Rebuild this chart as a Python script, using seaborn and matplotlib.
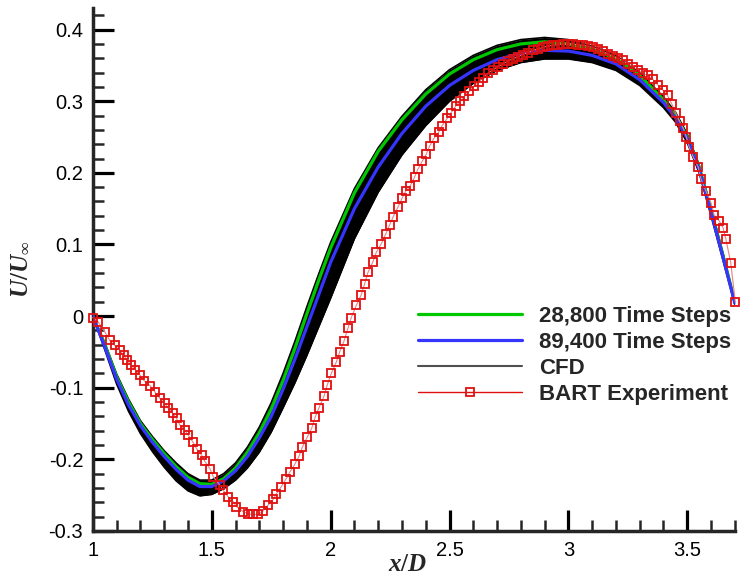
import matplotlib
matplotlib.use("Agg")
import matplotlib.pyplot as plt
from matplotlib.lines import Line2D
from matplotlib.ticker import MultipleLocator
import seaborn as sns
import pandas as pd

# ---- data ----
x_curve = [1.0, 1.05, 1.1, 1.15, 1.2, 1.25, 1.3, 1.35, 1.4, 1.45, 1.5, 1.55, 1.6, 1.65,
           1.7, 1.75, 1.8, 1.85, 1.9, 1.95, 2.0, 2.1, 2.2, 2.3, 2.4, 2.5, 2.6, 2.7, 2.8,
           2.9, 3.0, 3.1, 3.2, 3.3, 3.4, 3.45, 3.5, 3.55, 3.6, 3.65, 3.7]

u_28800 = [0.0, -0.04, -0.085, -0.12, -0.15, -0.172, -0.192, -0.21, -0.225, -0.234, -0.235,
           -0.227, -0.212, -0.19, -0.163, -0.13, -0.09, -0.045, 0.003, 0.05, 0.095, 0.172,
           0.23, 0.274, 0.31, 0.338, 0.358, 0.372, 0.38, 0.383, 0.38, 0.372, 0.36, 0.336,
           0.302, 0.28, 0.25, 0.208, 0.148, 0.085, 0.02]

u_89400 = [0.0, -0.043, -0.088, -0.124, -0.153, -0.176, -0.196, -0.214, -0.229, -0.238, -0.238,
           -0.23, -0.216, -0.196, -0.17, -0.14, -0.102, -0.06, -0.015, 0.03, 0.075, 0.15,
           0.208, 0.255, 0.293, 0.322, 0.343, 0.358, 0.367, 0.371, 0.37, 0.364, 0.352, 0.33,
           0.298, 0.277, 0.248, 0.205, 0.145, 0.083, 0.018]

cfd_upper = [0.0, -0.037, -0.081, -0.116, -0.146, -0.168, -0.188, -0.205, -0.22, -0.229, -0.229,
             -0.22, -0.205, -0.183, -0.155, -0.121, -0.08, -0.035, 0.013, 0.059, 0.103, 0.178,
             0.235, 0.279, 0.316, 0.344, 0.364, 0.378, 0.386, 0.389, 0.386, 0.377, 0.364, 0.34,
             0.306, 0.285, 0.254, 0.211, 0.151, 0.088, 0.02]

cfd_lower = [0.0, -0.047, -0.095, -0.133, -0.164, -0.189, -0.211, -0.23, -0.244, -0.251, -0.249,
             -0.241, -0.229, -0.212, -0.19, -0.162, -0.128, -0.093, -0.055, -0.015, 0.025, 0.108,
             0.173, 0.225, 0.266, 0.3, 0.325, 0.343, 0.354, 0.359, 0.359, 0.354, 0.343, 0.322,
             0.291, 0.271, 0.242, 0.2, 0.14, 0.078, 0.016]

x_bart = [1.000, 1.022, 1.050, 1.071, 1.092, 1.113, 1.130, 1.145, 1.162, 1.178, 1.197,
          1.215, 1.240, 1.261, 1.282, 1.303, 1.317, 1.337, 1.352, 1.366, 1.387, 1.400,
          1.421, 1.436, 1.457, 1.471, 1.492, 1.506, 1.534, 1.548, 1.568, 1.589, 1.604,
          1.632, 1.653, 1.674, 1.695, 1.716, 1.737, 1.758, 1.772, 1.793, 1.811, 1.828,
          1.849, 1.868, 1.881, 1.902, 1.921, 1.935, 1.951, 1.972, 1.986, 2.003, 2.024,
          2.038, 2.056, 2.073, 2.087, 2.108, 2.129, 2.143, 2.157, 2.178, 2.192, 2.213,
          2.231, 2.248, 2.262, 2.283, 2.301, 2.315, 2.335, 2.353, 2.367, 2.385, 2.402,
          2.416, 2.434, 2.455, 2.469, 2.490, 2.507, 2.528, 2.546, 2.563, 2.584, 2.602,
          2.623, 2.640, 2.661, 2.682, 2.703, 2.724, 2.745, 2.766, 2.787, 2.808, 2.829,
          2.850, 2.871, 2.892, 2.913, 2.934, 2.955, 2.976, 2.997, 3.018, 3.039, 3.060,
          3.081, 3.102, 3.123, 3.144, 3.165, 3.186, 3.207, 3.228, 3.249, 3.270, 3.291,
          3.312, 3.333, 3.354, 3.375, 3.396, 3.417, 3.435, 3.452, 3.468, 3.483, 3.496,
          3.508, 3.525, 3.546, 3.557, 3.578, 3.600, 3.613, 3.634, 3.651, 3.662, 3.683, 3.702]

u_bart = [-0.002, -0.008, -0.022, -0.034, -0.041, -0.048, -0.055, -0.062, -0.069, -0.075, -0.082,
          -0.090, -0.097, -0.106, -0.115, -0.122, -0.129, -0.136, -0.143, -0.152, -0.159, -0.166,
          -0.176, -0.185, -0.194, -0.203, -0.213, -0.224, -0.236, -0.243, -0.252, -0.259, -0.266,
          -0.273, -0.276, -0.277, -0.277, -0.272, -0.264, -0.256, -0.248, -0.238, -0.228, -0.218,
          -0.207, -0.195, -0.183, -0.169, -0.156, -0.141, -0.128, -0.112, -0.096, -0.080, -0.064,
          -0.050, -0.035, -0.017, -0.002, 0.015, 0.030, 0.045, 0.061, 0.076, 0.089, 0.101,
          0.114, 0.127, 0.138, 0.152, 0.165, 0.174, 0.182, 0.194, 0.205, 0.216, 0.226,
          0.237, 0.248, 0.257, 0.266, 0.276, 0.284, 0.294, 0.300, 0.307, 0.314, 0.321,
          0.327, 0.333, 0.339, 0.344, 0.348, 0.352, 0.356, 0.359, 0.362, 0.365, 0.368,
          0.371, 0.373, 0.375, 0.377, 0.378, 0.379, 0.380, 0.380, 0.380, 0.379, 0.378,
          0.377, 0.375, 0.373, 0.370, 0.366, 0.363, 0.360, 0.357, 0.352, 0.348, 0.344,
          0.339, 0.336, 0.331, 0.323, 0.316, 0.308, 0.296, 0.283, 0.272, 0.262, 0.250,
          0.236, 0.222, 0.208, 0.192, 0.175, 0.158, 0.141, 0.133, 0.123, 0.108, 0.074, 0.020]

x_ticks = [1, 1.5, 2, 2.5, 3, 3.5]
x_tick_labels = ["1", "1.5", "2", "2.5", "3", "3.5"]
y_ticks = [-0.3, -0.2, -0.1, 0, 0.1, 0.2, 0.3, 0.4]
y_tick_labels = ["-0.3", "-0.2", "-0.1", "0", "0.1", "0.2", "0.3", "0.4"]
series_labels = ["28,800 Time Steps", "89,400 Time Steps", "CFD", "BART Experiment"]

# ---- styling ----
sns.set_style("ticks")
plt.rcParams["font.family"] = ["Liberation Sans", "DejaVu Sans"]
plt.rcParams["mathtext.fontset"] = "custom"
plt.rcParams["mathtext.it"] = "Liberation Serif:italic:bold"
plt.rcParams["mathtext.rm"] = "Liberation Serif:bold"
plt.rcParams["mathtext.bf"] = "Liberation Serif:bold"

GREEN = "#00c800"
BLUE = "#3535ff"
RED = "#e01010"

fig = plt.figure(figsize=(7.43, 5.79), dpi=100)
ax = fig.add_axes([0.125, 0.083, 0.864, 0.903])

curves = pd.DataFrame({"x": x_curve, "g": u_28800, "b": u_89400,
                       "up": cfd_upper, "lo": cfd_lower})
bart = pd.DataFrame({"x": x_bart, "u": u_bart})

# CFD band (many snapshots in the original -> envelope)
ax.fill_between(curves["x"], curves["lo"], curves["up"], color="black", lw=0, zorder=1)
sns.lineplot(data=curves, x="x", y="up", ax=ax, color="black", lw=1.2, sort=False,
             estimator=None, zorder=1.1)
sns.lineplot(data=curves, x="x", y="lo", ax=ax, color="black", lw=1.2, sort=False,
             estimator=None, zorder=1.1)

sns.lineplot(data=curves, x="x", y="g", ax=ax, color=GREEN, lw=2.3, sort=False,
             estimator=None, zorder=3)
sns.lineplot(data=curves, x="x", y="b", ax=ax, color=BLUE, lw=2.3, sort=False,
             estimator=None, zorder=3.1)

sns.lineplot(data=bart, x="x", y="u", ax=ax, color="#f08080", lw=0.8, sort=False,
             estimator=None, zorder=4, marker="s", markersize=5.5, markerfacecolor="none",
             markeredgecolor=RED, markeredgewidth=1.3, clip_on=False)

ax.set_xlim(1, 3.7)
ax.set_ylim(-0.3, 0.43)
ax.set_xticks(x_ticks)
ax.set_xticklabels(x_tick_labels)
ax.set_yticks(y_ticks)
ax.set_yticklabels(y_tick_labels)
ax.xaxis.set_minor_locator(MultipleLocator(0.1))
ax.yaxis.set_minor_locator(MultipleLocator(0.02))

sns.despine(ax=ax)
for s in ["left", "bottom"]:
    ax.spines[s].set_linewidth(2.5)
ax.tick_params(which="major", direction="in", length=15, width=2.3, labelsize=14.5,
               pad=7, colors="black")
ax.tick_params(which="minor", direction="in", length=8, width=1.8)

ax.set_xlabel(r"$x/D$", fontsize=18)
ax.set_ylabel(r"$U/U_{\infty}$", fontsize=18)
ax.xaxis.set_label_coords(0.49, -0.04)
ax.yaxis.set_label_coords(-0.095, 0.5)

handles = [
    Line2D([], [], color=GREEN, lw=2.3),
    Line2D([], [], color=BLUE, lw=2.3),
    Line2D([], [], color="#505050", lw=1.5),
    Line2D([], [], color=RED, lw=1.0, marker="s", markersize=5.5, markerfacecolor="none",
           markeredgecolor=RED, markeredgewidth=1.3),
]
leg = fig.legend(handles, series_labels, loc="upper left",
                 bbox_to_anchor=(418 / 743, 1 - 306 / 579), frameon=False,
                 borderpad=0, borderaxespad=0, handlelength=4.7, handletextpad=0.75,
                 labelspacing=0.22,
                 prop={"family": "Liberation Sans", "weight": "bold", "size": 16})

fig.savefig("out.png", dpi=100)
